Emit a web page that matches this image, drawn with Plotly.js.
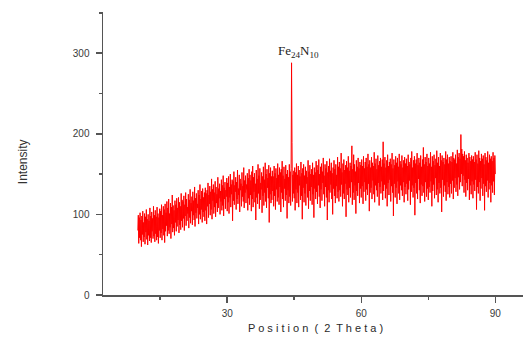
<!DOCTYPE html>
<html>
<head>
<meta charset="utf-8">
<script src="https://cdn.plot.ly/plotly-3.0.1.min.js"></script>
<style>html,body{margin:0;padding:0;background:#fff;}#chart{width:523px;height:338px;}</style>
</head>
<body>
<div id="chart"></div>
<script>
// 2-theta start and step (degrees)
const thetaStart = 10;
const thetaStep = 0.1;
// Intensity readings, 50 per 5-degree block (10..90)
const intensity = [
  80, 99, 64, 96, 71, 102, 68, 93, 60, 98, 75, 104, 66, 90, 72, 101, 63, 97, 78, 106,
  69, 94, 62, 100, 74, 92, 67, 108, 71, 98, 65, 103, 79, 95, 70, 110, 73, 99, 66, 105,
  76, 97, 68, 109, 72, 101, 64, 96, 80, 107,
  71, 104, 77, 112, 68, 99, 82, 110, 74, 106, 65, 113, 79, 102, 86, 116, 73, 108, 80, 119,
  76, 101, 84, 114, 70, 109, 88, 124, 78, 111, 83, 105, 74, 117, 90, 112, 79, 120, 85, 108,
  93, 121, 77, 115, 87, 110, 81, 126, 92, 118,
  84, 116, 95, 123, 80, 112, 98, 127, 86, 119, 92, 109, 101, 125, 83, 118, 96, 131, 89, 114,
  104, 122, 87, 128, 99, 117, 93, 134, 85, 120, 102, 126, 95, 113, 108, 130, 88, 124, 100, 137,
  94, 119, 106, 129, 90, 132, 103, 121, 97, 127,
  92, 133, 105, 126, 88, 130, 110, 139, 96, 124, 113, 135, 99, 128, 106, 144, 94, 131, 117, 137,
  101, 127, 109, 141, 97, 134, 114, 125, 103, 146, 108, 132, 120, 138, 100, 129, 116, 143, 105, 136,
  111, 148, 98, 133, 119, 140, 107, 130, 122, 145,
  104, 139, 115, 147, 101, 134, 121, 150, 109, 137, 125, 143, 92, 141, 117, 153, 112, 136, 128, 146,
  106, 140, 119, 155, 113, 132, 124, 149, 103, 144, 130, 138, 110, 152, 122, 135, 116, 158, 108, 142,
  127, 148, 114, 137, 131, 151, 105, 145, 120, 156,
  112, 149, 124, 142, 104, 153, 119, 160, 109, 146, 128, 151, 115, 138, 93, 155, 121, 144, 113, 162,
  126, 148, 107, 157, 118, 139, 131, 152, 102, 147, 123, 159, 111, 143, 127, 164, 116, 150, 108, 156,
  133, 145, 120, 161, 90, 151, 125, 158, 114, 147,
  118, 154, 129, 147, 110, 160, 123, 151, 106, 157, 131, 145, 116, 163, 121, 149, 112, 158, 134, 152,
  103, 156, 127, 166, 119, 148, 109, 159, 132, 144, 117, 161, 124, 150, 95, 155, 130, 146, 114, 162,
  122, 153, 111, 157, 288, 189, 116, 149, 126, 154,
  120, 158, 105, 152, 131, 163, 114, 149, 127, 160, 109, 155, 136, 147, 118, 165, 123, 151, 94, 157,
  133, 162, 115, 148, 126, 159, 111, 154, 138, 146, 121, 167, 107, 153, 129, 161, 117, 150, 134, 156,
  112, 164, 125, 149, 96, 158, 132, 152, 119, 166,
  128, 161, 113, 155, 136, 168, 122, 150, 108, 159, 131, 163, 117, 153, 139, 170, 125, 148, 110, 162,
  134, 157, 121, 166, 93, 152, 130, 160, 115, 169, 127, 154, 137, 164, 119, 151, 100, 158, 132, 167,
  123, 156, 114, 162, 135, 149, 120, 171, 128, 159,
  116, 165, 130, 157, 122, 176, 137, 152, 110, 163, 126, 168, 119, 155, 138, 161, 97, 166, 131, 158,
  124, 172, 115, 154, 133, 164, 121, 160, 140, 185, 112, 156, 127, 174, 118, 162, 136, 153, 101, 167,
  129, 159, 123, 170, 139, 157, 114, 165, 132, 161,
  121, 168, 135, 160, 113, 172, 128, 157, 140, 165, 117, 170, 131, 159, 124, 175, 138, 162, 104, 167,
  127, 158, 133, 171, 119, 164, 142, 160, 125, 177, 115, 163, 136, 169, 130, 156, 122, 173, 139, 161,
  111, 166, 134, 170, 126, 159, 141, 168, 118, 190,
  129, 163, 137, 171, 120, 158, 132, 167, 110, 174, 139, 160, 124, 165, 143, 169, 116, 162, 135, 176,
  127, 157, 98, 168, 138, 161, 121, 172, 133, 164, 113, 170, 141, 159, 126, 175, 118, 166, 136, 162,
  130, 173, 123, 158, 140, 167, 115, 171, 134, 163,
  125, 169, 138, 160, 117, 174, 131, 165, 142, 162, 112, 170, 128, 178, 136, 158, 121, 167, 133, 172,
  99, 163, 139, 168, 126, 176, 119, 161, 144, 170, 130, 164, 114, 173, 137, 159, 123, 168, 135, 183,
  127, 162, 116, 171, 140, 165, 122, 175, 132, 160,
  118, 170, 134, 163, 127, 177, 141, 159, 110, 172, 129, 166, 137, 174, 120, 161, 145, 169, 124, 179,
  131, 164, 115, 171, 139, 160, 126, 176, 133, 167, 103, 173, 143, 165, 122, 170, 136, 162, 128, 178,
  117, 168, 140, 174, 125, 163, 134, 171, 121, 166,
  138, 172, 126, 165, 142, 177, 119, 170, 133, 168, 145, 174, 128, 163, 137, 180, 123, 171, 146, 176,
  131, 169, 140, 199, 150, 181, 135, 175, 148, 172, 127, 178, 143, 167, 122, 174, 139, 170, 130, 164,
  144, 176, 118, 171, 136, 166, 125, 173, 141, 168,
  120, 172, 137, 165, 129, 177, 143, 168, 106, 174, 134, 163, 126, 179, 140, 170, 117, 166, 132, 175,
  145, 169, 123, 173, 138, 162, 105, 176, 135, 171, 128, 167, 142, 178, 121, 164, 131, 174, 139, 169,
  115, 172, 136, 166, 127, 177, 141, 170, 124, 173,
  150
];
const theta = intensity.map((_, i) => +(thetaStart + i * thetaStep).toFixed(2));

const xTickVals = [30, 60, 90];
const xMinorVals = [15, 45, 75];
const yTickVals = [0, 100, 200, 300];
const yMinorVals = [50, 150, 250, 350];
const peakLabel = 'Fe<sub>24</sub>N<sub>10</sub>';
const peakPos = [45.9, 302];
const xTitle = 'P o s i t i o n  (  2  T h e t a )';
const yTitle = 'Intensity';

const trace = {
  x: theta, y: intensity, type: 'scatter', mode: 'lines',
  line: {color: '#ff0000', width: 1, simplify: false}, hoverinfo: 'skip'
};

const axisFont = {family: 'Liberation Sans, Arial, sans-serif', size: 10, color: '#3a3a3a'};
const tickStyle = {ticks: 'outside', ticklen: 6, tickwidth: 1.5, tickcolor: '#555'};
const layout = {
  width: 523, height: 338,
  margin: {l: 103, r: 0, t: 12, b: 43},
  paper_bgcolor: '#fff', plot_bgcolor: '#fff',
  showlegend: false,
  xaxis: Object.assign({
    range: [2.2, 96.2], showgrid: false, zeroline: false,
    showline: true, linecolor: '#555', linewidth: 1.5,
    tickvals: xTickVals, ticktext: xTickVals.map(String),
    minor: {tickvals: xMinorVals, ticks: 'outside', ticklen: 3, tickcolor: '#555', tickwidth: 1.5},
    tickfont: axisFont, ticklabelstandoff: 2
  }, tickStyle),
  yaxis: Object.assign({
    range: [0, 351], showgrid: false, zeroline: false,
    showline: true, linecolor: '#555', linewidth: 1.5,
    tickvals: yTickVals, ticktext: yTickVals.map(String),
    minor: {tickvals: yMinorVals, ticks: 'outside', ticklen: 3, tickcolor: '#555', tickwidth: 1.5},
    tickfont: axisFont, ticklabelstandoff: 4
  }, tickStyle),
  annotations: [
    {x: peakPos[0], y: peakPos[1], xref: 'x', yref: 'y', text: peakLabel,
     showarrow: false, font: {family: 'Liberation Serif, Times New Roman, serif', size: 13, color: '#222'}},
    {x: 0.507, y: -0.117, xref: 'paper', yref: 'paper', text: xTitle, showarrow: false,
     xanchor: 'center', yanchor: 'middle',
     font: {family: 'Liberation Sans, Arial, sans-serif', size: 11, color: '#2a2a2a'}},
    {x: -0.19, y: 0.47, xref: 'paper', yref: 'paper', text: yTitle, showarrow: false,
     textangle: -90, xanchor: 'center', yanchor: 'middle',
     font: {family: 'Liberation Sans, Arial, sans-serif', size: 12, color: '#333'}}
  ]
};

Plotly.newPlot('chart', [trace], layout, {displayModeBar: false, staticPlot: true});
</script>
</body>
</html>
